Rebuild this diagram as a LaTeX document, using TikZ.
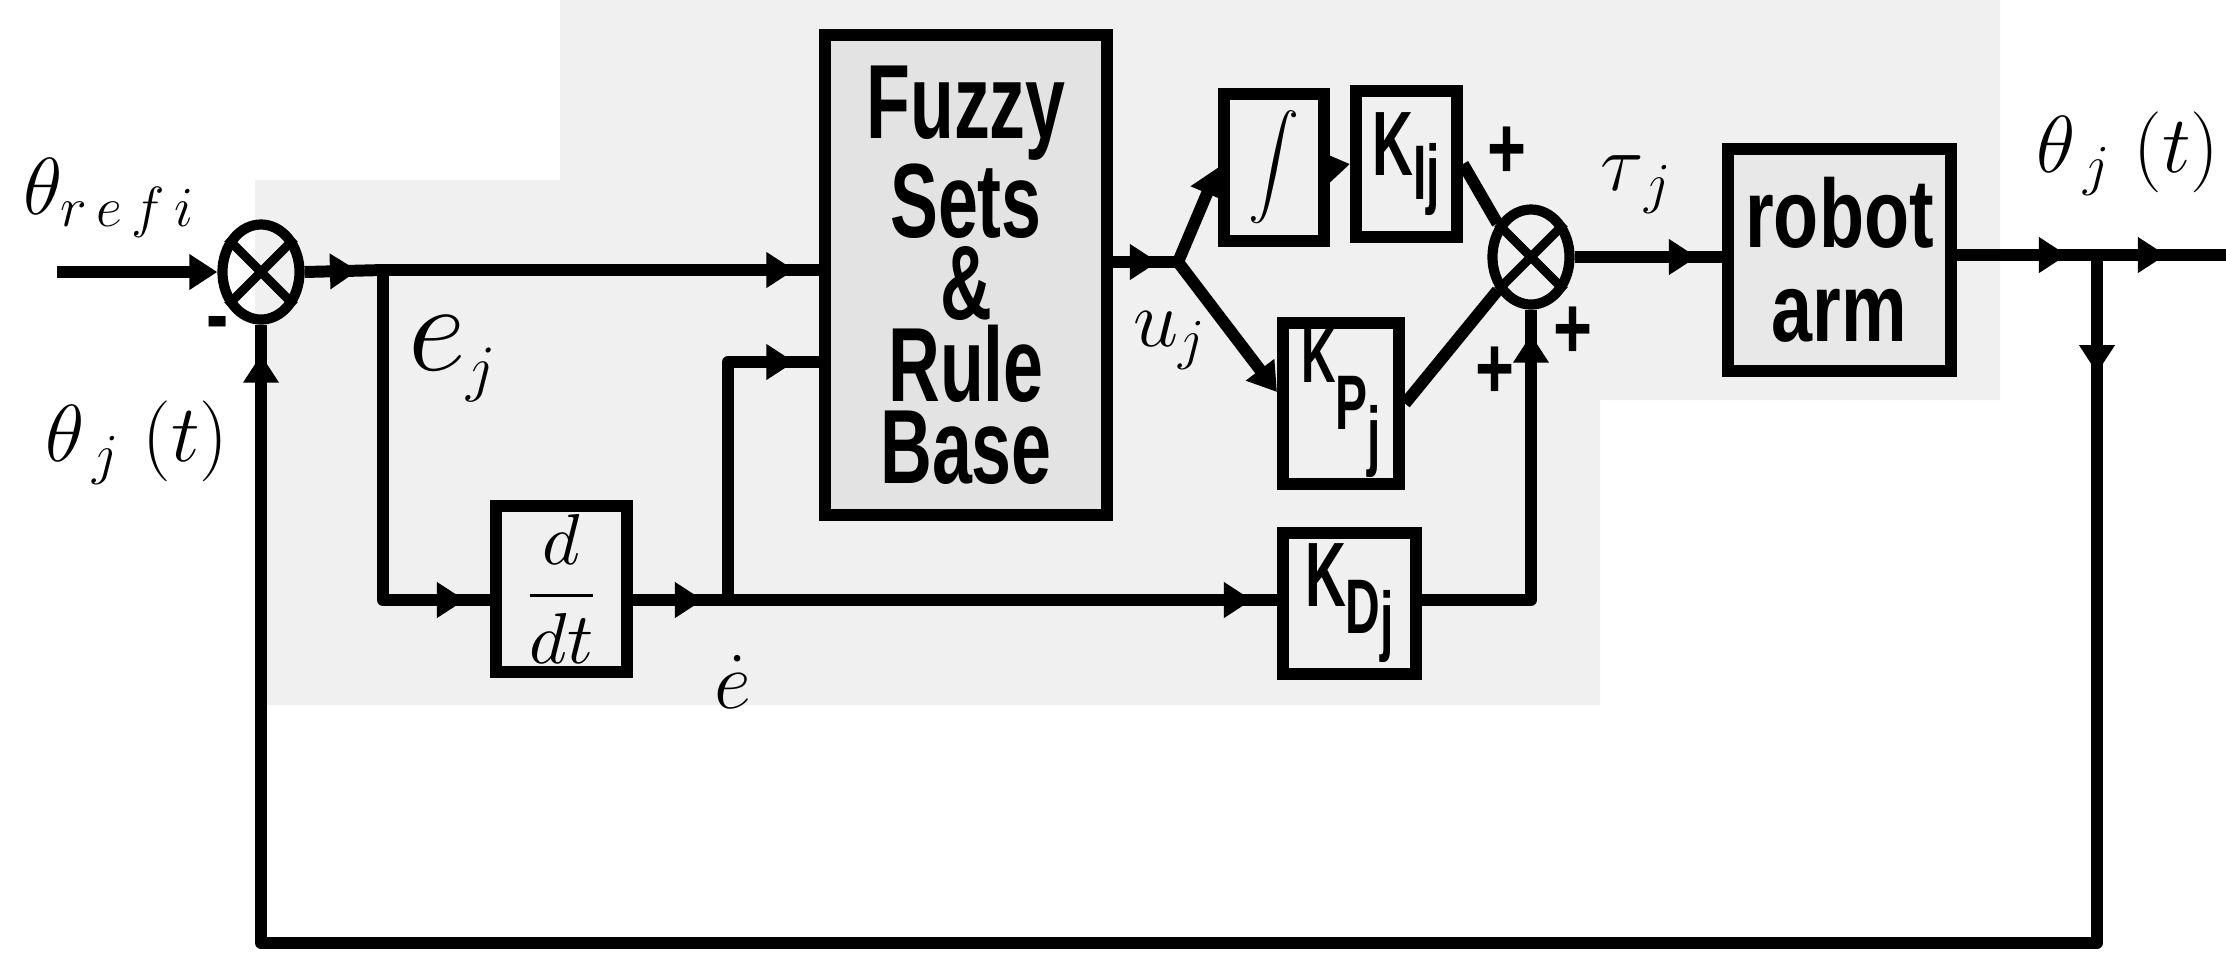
\RequirePackage{fix-cm}
\documentclass[tikz,border=0pt]{standalone}
\usepackage{fontspec}
\usepackage{graphicx}
\newfontfamily\fzf[FakeStretch=0.68]{Liberation Sans}
\newfontfamily\rbf[FakeStretch=0.76]{Liberation Sans}
\newfontfamily\kfn[FakeStretch=0.62]{Liberation Sans}
\usetikzlibrary{arrows.meta,decorations.markings,shapes.geometric}
\tikzset{
  wire/.style={line width=3.4pt, line join=round},
  blkbox/.style={draw, line width=3.4pt, inner sep=0pt},
  sumj/.style={draw, ellipse, line width=2.9pt, minimum width=0.77cm, minimum height=0.95cm, inner sep=0pt},
  tipend/.style={-{Triangle[length=0.28cm,width=0.34cm]}},
  arrat/.style={postaction={decorate}, decoration={markings, mark=at position #1 with {\arrow{Triangle[length=0.28cm,width=0.34cm]}}}},
  labl/.style={font=\fontsize{23}{23}\selectfont, inner sep=0pt},
  sgn/.style={font=\rbf\bfseries\fontsize{25}{25}\selectfont, inner sep=0pt},
}
\begin{document}
\begin{tikzpicture}[x=0.01cm,y=-0.01cm]
\useasboundingbox (0,0) rectangle (2226,953);
% halftone background of the scan
\fill[black!6] (255,180) -- (560,180) -- (560,0) -- (2000,0) -- (2000,400) -- (1600,400) -- (1600,705) -- (255,705) -- cycle;

% blocks
\node[blkbox, fill=black!11, minimum width=2.81cm, minimum height=4.80cm, align=center,
      font={\fzf\bfseries\fontsize{30}{23.3}\selectfont}] (fz) at (966,275) {Fuzzy\\Sets\\\&\\Rule\\Base};
\node[blkbox, minimum width=1.31cm, minimum height=1.66cm] (dd) at (561.5,589)
      {\scalebox{2.05}{$\displaystyle\frac{d}{dt}$}};
\node[blkbox, minimum width=1.00cm, minimum height=1.47cm] (ig) at (1274,167.5)
      {\scalebox{1.45}{$\displaystyle\int$}};
\node[blkbox, minimum width=1.01cm, minimum height=1.46cm] (ki) at (1406.5,164)
      {\kfn\bfseries\fontsize{26}{26}\selectfont K\raisebox{-6.8pt}{\fontsize{22}{22}\selectfont Ij}};
\node[blkbox, minimum width=1.16cm, minimum height=1.61cm] (kp) at (1341,403.5)
      {\kfn\bfseries\fontsize{22}{22}\selectfont K\raisebox{-13.4pt}{P\raisebox{-9pt}{j}}};
\node[blkbox, minimum width=1.33cm, minimum height=1.41cm] (kd) at (1349.5,603.5)
      {\kfn\bfseries\fontsize{26}{26}\selectfont K\raisebox{-7.7pt}{\fontsize{22}{22}\selectfont D\raisebox{-3.7pt}{j}}};
\node[blkbox, fill=black!9, minimum width=2.23cm, minimum height=2.22cm, align=center,
      font={\rbf\bfseries\fontsize{27.6}{26.7}\selectfont}] (rb) at (1839.5,260) {robot\\arm};

% summing junctions
\node[sumj] (s1) at (261,272) {};
\node[sumj] (s2) at (1531,257) {};
\draw[line width=2.6pt] (s1.45) -- (s1.225) (s1.135) -- (s1.315);
\draw[line width=2.6pt] (s2.45) -- (s2.225) (s2.135) -- (s2.315);

% points on the wires
\coordinate (src) at (57,272);
\coordinate (b1) at (383,270);
\coordinate (b2) at (728,600);
\coordinate (fl) at (728,362);
\coordinate (b3) at (1178,262);
\coordinate (b4) at (2097,255);
\coordinate (out) at (2226,255);
\coordinate (fbr) at (2097,943);
\coordinate (fbl) at (261,943);
\coordinate (kpin) at (1283,392);

% connectors
\draw[wire,tipend] (src) -- (s1.west);
\draw[wire,arrat=-0.25cm] (s1.east) -- (b1);
\draw[wire,arrat=-0.25cm] (b1) -- (b1 -| fz.west);
\draw[wire,arrat=-0.25cm] (b1) |- (dd.west |- b2);
\draw[wire,arrat=-0.25cm] (dd.east |- b2) -- (b2);
\draw[wire,arrat=-0.25cm] (b2) -- (b2 -| kd.west);
\draw[wire,arrat=-0.25cm] (b2) -- (fl) -- (fl -| fz.west);
\draw[wire,arrat=-0.2cm] (fz.east |- b3) -- (b3);
\draw[wire,tipend] (b3) -- (ig.west);
\draw[wire,tipend] (ig.east) -- (ki.west);
\draw[wire,tipend] (b3) -- (kpin -| kp.west);
\draw[wire] (ki.east) -- (s2.135);
\draw[wire] (kp.east) -- (s2.225);
\draw[wire,arrat=-0.25cm] (kd.east |- b2) -| (s2.south);
\draw[wire,arrat=-0.25cm] (s2.east) -- (s2.east -| rb.west);
\draw[wire,arrat=-0.3cm] (rb.east |- b4) -- (b4);
\draw[wire,arrat=-0.6cm] (b4) -- (out);
\draw[wire, postaction={decorate}, decoration={markings,
      mark=at position 1.18cm with {\arrow{Triangle[length=0.28cm,width=0.34cm]}},
      mark=at position -0.3cm with {\arrow{Triangle[length=0.28cm,width=0.34cm]}}}]
      (b4) -- (fbr) -- (fbl) -- (s1.south);

% labels
\node[labl, anchor=base west] (lref) at (23,214) {$\theta_{r\,e\,f\,i}$};
\node[sgn] (minus) at (218,330) {-};
\node[labl, anchor=base west] (lthl) at (45,461) {$\theta_{\,j}\;(t)$};
\node[labl, anchor=base west] (lthr) at (2036,172) {$\theta_{\,j}\;(t)$};
\node[font=\fontsize{36}{36}\selectfont, inner sep=0pt, anchor=base west] (le) at (408,370) {$e_{\scriptscriptstyle j}$};
\node[labl, anchor=base] (led) at (733,708) {$\dot e$};
\node[labl, anchor=base west] (lu) at (1133,346) {$u_{j}$};
\node[labl, anchor=base west] (ltau) at (1600,190) {$\tau_{\,j}$};
\node[sgn] (p1) at (1507,153) {+};
\node[sgn] (p2) at (1573,333) {+};
\node[sgn] (p3) at (1495,373) {+};
\end{tikzpicture}
\end{document}
